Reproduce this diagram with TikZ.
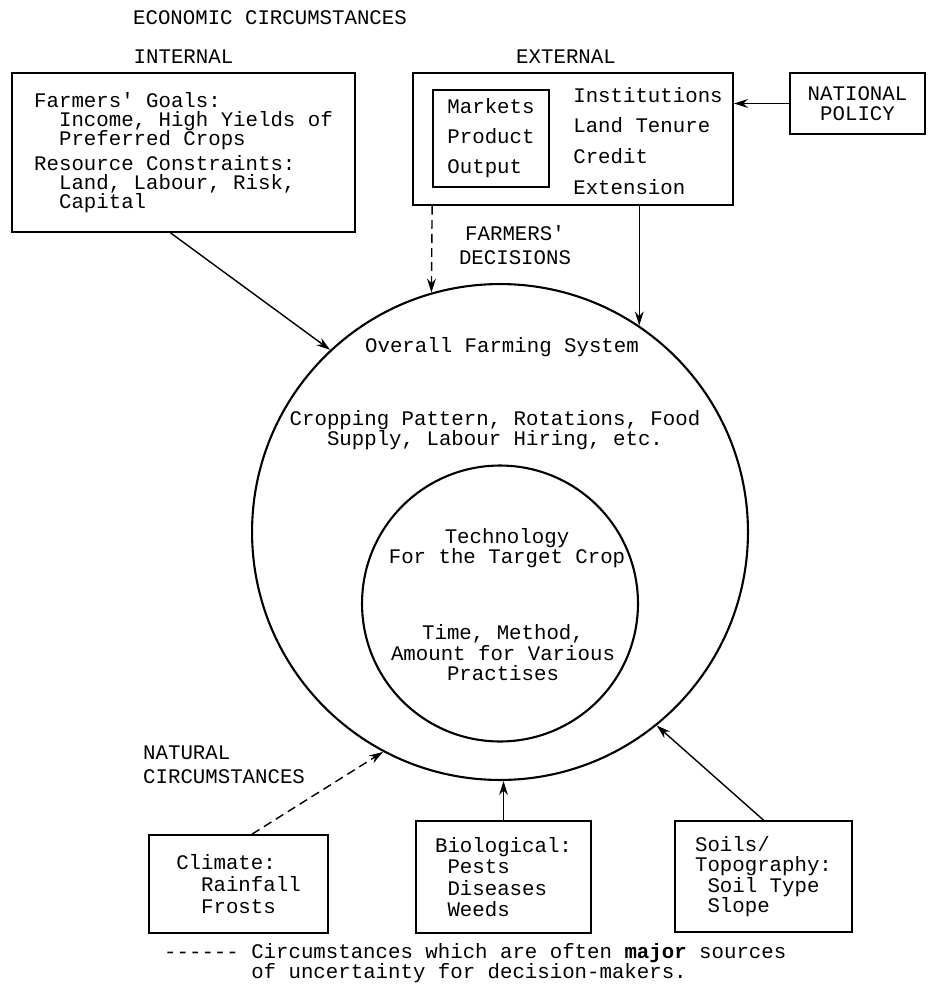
\documentclass[tikz,border=0pt]{standalone}
\usepackage{fontspec}
\setmonofont{Liberation Mono}
\usetikzlibrary{arrows.meta}
\lineskiplimit=-\maxdimen
\tikzset{
  typed/.style={
    font=\ttfamily\fontsize{11.8}{#1}\selectfont
  },
  typed/.default=12pt,
  box/.style={
    draw,
    line width=1pt,
    inner sep=0pt,
    align=left,
    typed=#1
  },
  box/.default=12pt,
  ring/.style={
    draw,
    shape=circle,
    line width=1.2pt,
    inner sep=0pt,
    minimum size=#1
  },
  link/.style={
    -{Stealth[length=8pt,width=5pt]},
    line width=0.8pt
  },
  unsure/.style={
    link,
    dash pattern=on 5pt off 3pt
  }
}

\begin{document}
\begin{tikzpicture}[x=0.02cm,y=-0.02cm]
    \useasboundingbox (0,0) rectangle (935,993);
    % economic circumstances
    \node[typed] (econ) at (270,18) {ECONOMIC CIRCUMSTANCES};
    \node[typed] (intlab) at (183.5,57) {INTERNAL};
    \node[typed] (extlab) at (566,57) {EXTERNAL};
    \node[box=10.8pt,minimum width=6.86cm,minimum height=3.18cm] (int) at (183.5,152.5)
        {Farmers' Goals:\\~~Income, High Yields of\\~~Preferred Crops\\[3.6pt]
         Resource Constraints:\\~~Land, Labour, Risk,\\~~Capital};
    \node[box,minimum width=6.4cm,minimum height=2.64cm] (ext) at (573,139) {};
    \node[box=17pt,minimum width=2.32cm,minimum height=1.94cm] (mkt) at (491,138.5)
        {Markets\\Product\\Output};
    \node[typed=17.6pt,align=left] (inst) at (648,141)
        {Institutions\\Land Tenure\\Credit\\Extension};
    \node[box=11.4pt,align=center,minimum width=2.7cm,minimum height=1.22cm] (nat) at (857.5,103.5)
        {NATIONAL\\POLICY};
    \node[typed=13.7pt,align=center] (dec) at (515,245) {FARMERS'\\DECISIONS};
    % farming system
    \node[ring=9.92cm] (farm) at (500,532) {};
    \node[ring=5.52cm] (tech) at (500,603.5) {};
    \node[typed] (farmname) at (502,347) {Overall Farming System};
    \node[typed=11.4pt,align=center] (farmtext) at (495,430)
        {Cropping Pattern, Rotations, Food\\Supply, Labour Hiring, etc.};
    \node[typed=11.4pt,align=center] (techname) at (507,548)
        {Technology\\For the Target Crop};
    \node[typed=11.7pt,align=center] (techtext) at (503,653)
        {Time, Method,\\Amount for Various\\Practises};
    % natural circumstances
    \node[typed=13.7pt,align=left,anchor=west] (natlab) at (137,765)
        {NATURAL\\CIRCUMSTANCES};
    \node[box=12.5pt,minimum width=3.58cm,minimum height=1.96cm] (clim) at (238.5,884)
        {Climate:\\~~Rainfall\\~~Frosts};
    \node[box=12.1pt,minimum width=3.5cm,minimum height=2.24cm] (bio) at (503.5,877)
        {Biological:\\~Pests\\~Diseases\\~Weeds};
    \node[box=11.6pt,minimum width=3.54cm,minimum height=2.22cm] (soil) at (763.5,876.5)
        {Soils/\\Topography:\\~Soil Type\\~Slope};
    \node[typed=11.4pt,align=left,anchor=west] (note) at (158,963)
        {------ Circumstances which are often \textbf{major} sources\\
         \phantom{------ }of uncertainty for decision-makers.};
    % arrows
    \draw[link] ([xshift=-7.4pt]int.south) -- (farm.133);
    \draw[unsure] (mkt.west |- ext.south) -- (farm.106);
    \draw[link] (ext.south -| farm.56) -- (farm.56);
    \draw[link] (nat.west) -- (nat.west -| ext.east);
    \draw[unsure] ([xshift=7.7pt]clim.north) -- (farm.242);
    \draw[link] (bio.north) -- (bio.north |- farm.south);
    \draw[link] (soil.north) -- (farm.309);
\end{tikzpicture}
\end{document}
